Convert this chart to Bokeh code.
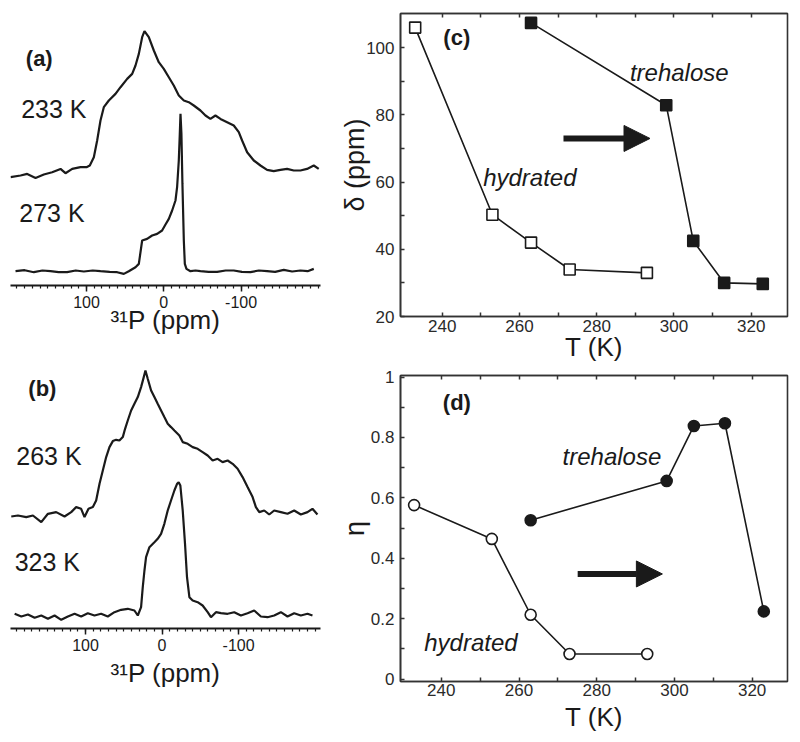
import numpy as np
from bokeh.plotting import figure
from bokeh.layouts import row, column
from bokeh.models import Range1d, FixedTicker, LinearAxis, Label, Arrow, NormalHead
from bokeh.embed import file_html
from bokeh.resources import INLINE

FONT = "Liberation Sans"

# ---------------- data: 31P spectra (ppm, intensity in a.u.) ----------------
a233_ppm = [198.3, 185.3, 176.7, 165.9, 155.2, 144.4, 133.6, 127.2, 118.5, 107.8, 100.0, 95.7,
            90.5, 86.2, 81.9, 77.6, 71.1, 62.5, 56.0, 47.4, 40.9, 36.6, 32.3, 28.0, 25.0,
            19.4, 12.9, 6.5, 0.0, -6.5, -12.9, -19.4, -25.9, -32.3, -38.8, -47.4, -53.9, -60.3,
            -66.8, -73.3, -81.9, -90.5, -97.0, -101.3, -107.8, -116.4, -125.0, -133.6, -142.2,
            -150.9, -159.5, -168.1, -176.7, -185.3, -194.0, -200.4]
a233_int = [-5.0, -3.3, -1.7, -5.7, -2.3, 0.0, 3.3, -1.0, 3.3, 5.0, 5.0, 6.7,
            15.0, 31.7, 51.7, 65.0, 71.7, 78.3, 85.0, 93.3, 98.3, 106.7, 118.3, 135.0, 141.0,
            135.0, 121.7, 110.0, 103.3, 95.0, 86.7, 76.7, 71.7, 70.0, 66.7, 61.7, 56.7, 53.3,
            56.7, 53.3, 50.0, 46.7, 40.0, 31.7, 20.0, 11.7, 6.7, 2.3, 1.0,
            2.3, 3.3, 1.7, 1.7, 3.3, 6.7, 3.3]

a273_ppm = [191.8, 180.0, 168.1, 157.0, 146.6, 136.0, 125.0, 114.0, 103.4, 92.0, 81.9, 70.0,
            60.3, 51.7, 45.3, 36.6, 32.3, 28.0, 21.6, 15.1, 8.6, 2.2, -2.2, -6.5, -10.8,
            -15.1, -17.2, -19.4, -20.7, -21.6, -22.8, -24.1, -25.9, -27.2, -29.3, -34.5,
            -41.0, -47.4, -58.0, -69.0, -80.0, -90.5, -101.0, -112.1, -123.0, -133.6, -144.0,
            -155.2, -166.0, -176.7, -186.0, -194.0]
a273_int = [0.0, 1.0, -1.0, 0.7, 0.0, -1.0, -1.0, 0.7, -0.3, 0.7, 0.0, -0.7,
            -1.0, -2.7, 0.0, 4.0, 7.3, 30.7, 32.3, 35.7, 37.3, 40.7, 46.7, 52.3, 60.7,
            70.7, 84.0, 110.7, 137.3, 157.3, 137.3, 87.3, 30.7, 7.3, 2.3, 0.0,
            0.7, 0.0, -0.7, -0.7, 0.7, 0.7, -0.7, -1.0, 0.7, 0.0, -0.7,
            1.3, -0.3, 0.7, 0.0, 2.3]

b263_ppm = [197.0, 188.3, 177.4, 168.7, 157.8, 149.1, 138.3, 127.4, 118.7, 112.2, 105.7, 101.3,
            96.1, 90.4, 86.1, 81.7, 77.4, 73.0, 68.7, 64.3, 60.0, 55.7, 51.3, 48.3, 44.8,
            40.4, 36.1, 31.7, 27.4, 23.9, 21.7, 18.7, 14.3, 10.0, 5.7, 1.3, -3.0, -7.4,
            -11.7, -16.1, -22.6, -27.0, -33.5, -40.0, -46.5, -53.0, -59.6, -66.1, -72.6,
            -79.1, -85.7, -92.2, -98.7, -105.2, -111.7, -118.3, -122.6, -127.0, -133.5,
            -140.0, -146.5, -155.2, -163.9, -172.6, -181.3, -190.0, -196.5, -203.0]
b263_int = [-2.7, -1.7, -3.3, -1.7, -8.3, 0.0, 1.7, -2.7, 1.7, 6.7, 5.0, -3.3,
            5.0, 6.7, 13.3, 30.0, 43.3, 56.7, 66.7, 72.7, 74.0, 73.3, 76.7, 85.0, 93.3,
            103.3, 110.0, 116.7, 126.7, 136.7, 143.3, 135.0, 123.3, 116.7, 110.0, 103.3, 96.7, 90.0,
            86.7, 83.3, 78.3, 71.7, 70.0, 66.7, 65.0, 61.7, 58.3, 53.3, 55.0,
            51.7, 53.3, 50.0, 45.0, 36.7, 26.7, 16.7, 6.7, 1.7, 3.3,
            -0.7, 3.3, 1.7, 0.0, 3.3, -0.7, 1.7, 5.0, -0.7]

b323_ppm = [192.6, 183.9, 175.2, 166.5, 157.8, 149.1, 140.4, 131.7, 123.0, 114.3, 105.7, 97.0,
            88.3, 79.6, 70.9, 62.2, 53.5, 44.8, 36.1, 31.7, 27.4, 25.2, 23.0, 20.9, 16.5,
            10.0, 5.7, 1.3, -3.0, -7.4, -11.7, -16.1, -19.6, -21.7, -23.9, -27.0, -30.0,
            -32.6, -35.7, -40.0, -46.5, -53.0, -59.6, -63.9, -70.4, -77.0, -85.7, -94.3,
            -103.0, -111.7, -120.4, -129.1, -137.8, -146.5, -155.2, -163.9, -172.6, -181.3,
            -190.0, -196.5]
b323_int = [1.7, -1.0, 1.0, -2.3, 0.0, -3.3, 0.0, -4.3, -1.0, 1.7, -1.0, 2.3,
            0.0, 1.7, -1.0, 3.3, 5.7, 6.7, 5.0, 0.0, 8.3, 28.3, 45.0, 58.3, 68.3,
            73.3, 76.7, 81.7, 91.7, 105.0, 115.0, 125.0, 131.7, 133.3, 130.0, 105.0, 71.7,
            38.3, 18.3, 15.0, 13.3, 10.0, 3.3, -1.7, 3.3, 2.3, 1.7, 3.3,
            0.0, 2.3, 5.0, -1.0, -1.7, 0.0, 3.3, -1.0, 2.3, 0.0,
            1.7, 0.0]

spectrum_ticks = [100, 0, -100]
spectrum_tick_labels = ["100", "0", "-100"]

# ---------------- data: anisotropy delta and asymmetry eta vs T ----------------
T_hyd = [233, 253, 263, 273, 293]
delta_hyd = [106.0, 50.3, 42.0, 34.0, 33.0]
T_tre = [263, 298, 305, 313, 323]
delta_tre = [107.4, 82.9, 42.5, 30.0, 29.7]

eta_hyd = [0.576, 0.464, 0.213, 0.083, 0.083]
eta_tre = [0.526, 0.656, 0.838, 0.847, 0.224]

T_ticks = [240, 260, 280, 300, 320]
delta_ticks = [20, 40, 60, 80, 100]
eta_ticks = [0, 0.2, 0.4, 0.6, 0.8, 1]

INK = "#1a1a1a"
FRAME = "#333333"


def spectrum_fig(width, height, xr, yr, borders, label_standoff):
    bl, br, bt, bb = borders
    p = figure(width=width, height=height, output_backend="svg", toolbar_location=None,
               x_range=Range1d(*xr), y_range=Range1d(*yr), y_axis_location=None,
               min_border_left=bl, min_border_right=br, min_border_top=bt, min_border_bottom=bb,
               outline_line_color=None)
    p.grid.visible = False
    ax = p.below[0]
    ax.ticker = FixedTicker(ticks=spectrum_ticks, minor_ticks=list(range(-200, 201, 10)))
    ax.major_label_overrides = dict(zip(spectrum_ticks, spectrum_tick_labels))
    ax.axis_line_color = INK
    ax.axis_line_width = 2
    ax.major_tick_line_color = INK
    ax.major_tick_line_width = 1.5
    ax.minor_tick_line_color = INK
    ax.minor_tick_line_width = 1.2
    ax.major_tick_in = 0
    ax.major_tick_out = 6
    ax.minor_tick_in = 0
    ax.minor_tick_out = 3
    ax.major_label_text_font = FONT
    ax.major_label_text_font_size = "16px"
    ax.major_label_text_color = INK
    ax.major_label_standoff = 4
    ax.axis_label = "³¹P (ppm)"
    ax.axis_label_text_font = FONT
    ax.axis_label_text_font_size = "26px"
    ax.axis_label_text_font_style = "normal"
    ax.axis_label_text_color = INK
    ax.axis_label_standoff = label_standoff
    return p


def add_text(p, x, y, text, size, style="normal", baseline="middle"):
    p.add_layout(Label(x=x, y=y, text=text, text_font=FONT, text_font_size=size,
                       text_font_style=style, text_color=INK, text_baseline=baseline,
                       text_align="left"))


# ---- panel (a)
pa = spectrum_fig(330, 355, (198.3, -202.7), (0, 270), (10, 10, 15, 70), -6)
off_a233, off_a273 = 113.3, 14.3
pa.line(a233_ppm, np.array(a233_int) + off_a233, line_color=INK, line_width=2.2)
pa.line(a273_ppm, np.array(a273_int) + off_a273, line_color=INK, line_width=2.2)
add_text(pa, 178.5, 227, "(a)", "22px", "bold")
add_text(pa, 184.5, 176.5, "233 K", "25px")
add_text(pa, 187.0, 72.5, "273 K", "25px")

# ---- panel (b)
pb = spectrum_fig(330, 387, (198.0, -207.0), (0, 268), (10, 9, 5, 114), 4)
off_b263, off_b323 = 114.7, 13.0
pb.line(b263_ppm, np.array(b263_int) + off_b263, line_color=INK, line_width=2.2)
pb.line(b323_ppm, np.array(b323_int) + off_b323, line_color=INK, line_width=2.2)
add_text(pb, 174.7, 240.5, "(b)", "22px", "bold")
add_text(pb, 190.4, 173, "263 K", "25px")
add_text(pb, 192.6, 66.3, "323 K", "25px")


def param_fig(width, height, xr, yr, borders, yticks, yminor, ylabel,
              xtick_standoff, ylab_standoff, xlab_standoff):
    bl, br, bt, bb = borders
    p = figure(width=width, height=height, output_backend="svg", toolbar_location=None,
               x_range=Range1d(*xr), y_range=Range1d(*yr),
               min_border_left=bl, min_border_right=br, min_border_top=bt, min_border_bottom=bb,
               outline_line_color=FRAME, outline_line_width=1.6)
    p.grid.visible = False
    bottom = p.below[0]
    left = p.left[0]
    top = LinearAxis(major_label_overrides={t: "" for t in T_ticks})
    p.add_layout(top, "above")
    for ax in (bottom, top):
        ax.ticker = FixedTicker(ticks=T_ticks, minor_ticks=[250, 270, 290, 310])
    left.ticker = FixedTicker(ticks=yticks, minor_ticks=yminor)
    for ax in (bottom, left, top):
        ax.axis_line_color = FRAME
        ax.axis_line_width = 1.6
        ax.major_tick_line_color = FRAME
        ax.minor_tick_line_color = FRAME
        ax.major_tick_line_width = 1.5
        ax.minor_tick_line_width = 1.5
        ax.major_tick_in = 4
        ax.major_tick_out = 0
        ax.minor_tick_in = 4
        ax.minor_tick_out = 0
        ax.major_label_text_font = FONT
        ax.major_label_text_font_size = "17px"
        ax.major_label_text_color = "#2a2a2a"
        ax.axis_label_text_font = FONT
        ax.axis_label_text_font_size = "27px"
        ax.axis_label_text_font_style = "normal"
        ax.axis_label_text_color = INK
    top.major_label_standoff = 0
    bottom.major_label_standoff = xtick_standoff
    bottom.axis_label = "T (K)"
    bottom.axis_label_text_font_size = "26px"
    bottom.axis_label_standoff = xlab_standoff
    left.major_label_standoff = 6
    left.axis_label = ylabel
    left.axis_label_standoff = ylab_standoff
    return p, left


def arrow(p, x0, x1, y):
    p.add_layout(Arrow(end=NormalHead(size=26, fill_color=INK, line_color=INK, line_width=1),
                       x_start=x0, y_start=y, x_end=x1, y_end=y,
                       line_color=INK, line_width=6))


# ---- panel (c)
pc, pc_left = param_fig(470, 364, (229.2, 329.4), (20, 110.2), (70, 12, 13, 45),
                        delta_ticks, [30, 50, 70, 90], "δ (ppm)", 3, -7, -3)
pc.line(T_hyd, delta_hyd, line_color=INK, line_width=1.6)
pc.scatter(T_hyd, delta_hyd, marker="square", size=11, fill_color="white",
           line_color=INK, line_width=1.6)
pc.line(T_tre, delta_tre, line_color=INK, line_width=1.6)
pc.scatter(T_tre, delta_tre, marker="square", size=11, fill_color=INK,
           line_color=INK, line_width=1.6)
add_text(pc, 240.3, 103.0, "(c)", "22px", "bold")
add_text(pc, 288.6, 92.5, "trehalose", "24px", "italic", "alphabetic")
add_text(pc, 250.6, 61.5, "hydrated", "24px", "italic", "alphabetic")
arrow(pc, 271.4, 293.8, 73.0)

# ---- panel (d)
pd_, pd_left = param_fig(470, 378, (229.5, 329.1), (-0.008, 1.005), (69, 13, 11, 61),
                         eta_ticks, [0.1, 0.3, 0.5, 0.7, 0.9], "η", 2, -2, 3)
pd_left.major_label_overrides = {0: "0", 1: "1"}
pd_.line(T_hyd, eta_hyd, line_color=INK, line_width=1.6)
pd_.scatter(T_hyd, eta_hyd, marker="circle", size=11, fill_color="white",
            line_color=INK, line_width=1.6)
pd_.line(T_tre, eta_tre, line_color=INK, line_width=1.6)
pd_.scatter(T_tre, eta_tre, marker="circle", size=11, fill_color=INK,
            line_color=INK, line_width=1.6)
add_text(pd_, 240.4, 0.917, "(d)", "22px", "bold")
add_text(pd_, 271.2, 0.736, "trehalose", "24px", "italic", "alphabetic")
add_text(pd_, 235.6, 0.122, "hydrated", "24px", "italic", "alphabetic")
arrow(pd_, 275.1, 296.9, 0.348)

layout = row(column(pa, pb), column(pc, pd_))

with open("out.html", "w") as f:
    f.write(file_html(layout, INLINE))
